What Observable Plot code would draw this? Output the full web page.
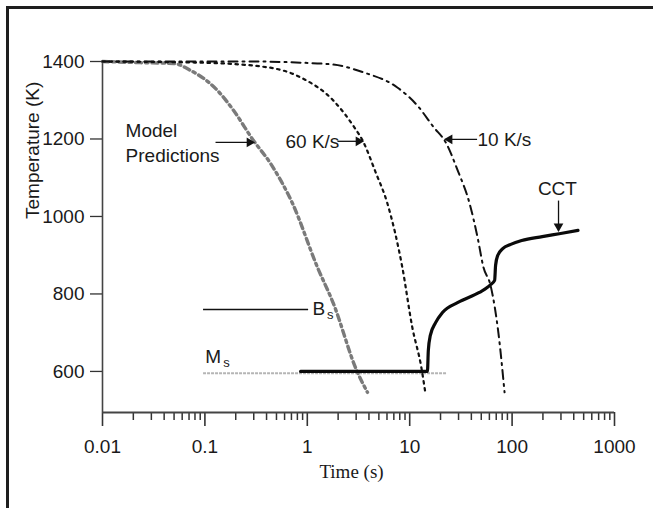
<!DOCTYPE html>
<html>
<head>
<meta charset="utf-8">
<script src="https://cdn.jsdelivr.net/npm/d3@7"></script>
<script src="https://cdn.jsdelivr.net/npm/@observablehq/plot@0.6"></script>
<style>
  html, body { margin: 0; padding: 0; background: #fff; width: 653px; height: 508px; overflow: hidden; }
  #wrap { position: relative; width: 653px; height: 508px; }
  #border { position: absolute; left: 6px; top: 6px; right: 0; bottom: 0; border-top: 3px solid #1e1e1e; border-left: 3px solid #1e1e1e; }
  #chart { position: absolute; left: 0; top: 0; }
</style>
</head>
<body>
<div id="wrap"><div id="border"></div><div id="chart"></div></div>
<script>
// ---- data ----
const xTickValues = [0.01, 0.1, 1, 10, 100, 1000];
const xTickLabels = ["0.01", "0.1", "1", "10", "100", "1000"];
const yTickValues = [600, 800, 1000, 1200, 1400];
const yTickLabels = ["600", "800", "1000", "1200", "1400"];
const minorMultipliers = [2, 3, 4, 5, 6, 7, 8, 9];

const modelTime = [0.01, 0.0235, 0.0494, 0.0724, 0.133, 0.19, 0.298, 0.437, 0.716, 1.26, 1.80, 3.03, 3.87];
const modelTemp = [1400, 1397, 1395, 1377, 1325, 1274, 1196, 1137, 1034, 868, 775, 603, 546];

const k60Time = [0.01, 0.0906, 0.41, 0.86, 1.80, 2.88, 3.47, 4.65, 6.05, 8.48, 10.6, 13.0, 14.2];
const k60Temp = [1400, 1397, 1385, 1359, 1299, 1230, 1196, 1114, 1034, 868, 714, 610, 546];

const k10Time = [0.01, 0.278, 0.86, 1.80, 3.53, 7.57, 11.9, 17.2, 22.5, 29.4, 38.4, 46.0, 52.6, 61.6, 73.6, 84.4];
const k10Temp = [1400, 1400, 1397, 1392, 1372, 1333, 1286, 1230, 1191, 1119, 1034, 946, 868, 822, 698, 546];

const cctTime = [0.86, 14.9, 15.2, 15.9, 17.9, 20.9, 29.6, 47.9, 57.5, 61.6, 67.5, 69, 72.3, 81, 97, 124, 197, 298, 440];
const cctTemp = [600, 600, 654, 693, 726, 752, 778, 804, 817, 824, 835, 874, 899, 917, 928, 938, 948, 956, 964];

const bsLine = {x1: 0.097, x2: 1.03, y: 760};
const msLine = {x1: 0.097, x2: 23, y: 595};

const annotations = [
  {x: 0.0168, y: 1193, text: "Model\nPredictions"},
  {x: 0.612, y: 1196, text: "60 K/s"},
  {x: 45.9, y: 1201, text: "10 K/s"},
  {x: 1.125, y: 765, text: "B"},
  {x: 0.101, y: 641, text: "M"}
];
const subscripts = [
  {x: 1.56, y: 745, text: "s"},
  {x: 0.151, y: 623, text: "s"}
];
const cctLabel = {x: 277, y: 1072, text: "CCT"};

const arrowShafts = [
  {x1: 0.127, x2: 0.298, y1: 1191, y2: 1191},
  {x1: 1.97, x2: 3.46, y1: 1194, y2: 1194},
  {x1: 45.5, x2: 22.4, y1: 1199, y2: 1199},
  {x1: 284, x2: 284, y1: 1041, y2: 964}
];
const arrowHeads = [
  {x: 0.298, y: 1191, rot: 90, dx: -4, dy: 0},
  {x: 3.46, y: 1194, rot: 90, dx: -4, dy: 0},
  {x: 22.4, y: 1199, rot: -90, dx: 4, dy: 0},
  {x: 284, y: 964, rot: 180, dx: 0, dy: -4}
];

// ---- build ----
const toPts = (xs, ys) => xs.map((x, i) => ({x, y: ys[i]}));
const minorTicks = xTickValues.slice(0, -1).flatMap(d => minorMultipliers.map(m => d * m));

const sans = "'Liberation Sans', Arial, Helvetica, sans-serif";
const serif = "'Liberation Serif', 'Times New Roman', serif";
const fs = 19;

const chart = Plot.plot({
  width: 653,
  height: 508,
  marginLeft: 102,
  marginRight: 39,
  marginTop: 61,
  marginBottom: 96,
  x: {type: "log", domain: [0.01, 1000]},
  y: {domain: [494, 1400]},
  style: {fontFamily: sans, fontSize: fs + "px", color: "#1a1a1a", background: "transparent"},
  marks: [
    Plot.axisX({ticks: minorTicks, tickSize: 8, tickFormat: () => "", label: null, stroke: "#333", strokeWidth: 1.5}),
    Plot.axisX({ticks: xTickValues, tickSize: 14, tickPadding: 13, tickFormat: d => xTickLabels[xTickValues.indexOf(d)], label: null, stroke: "#333", strokeWidth: 1.6, fontSize: fs}),
    Plot.axisY({ticks: yTickValues, tickSize: 12, tickPadding: 6, tickFormat: d => yTickLabels[yTickValues.indexOf(d)], label: null, stroke: "#333", strokeWidth: 1.3, fontSize: fs}),
    Plot.ruleY([494], {x1: 0.01, x2: 1000, stroke: "#444", strokeWidth: 2}),
    Plot.ruleX([0.01], {y1: 494, y2: 1400, stroke: "#444", strokeWidth: 1.6}),
    Plot.text(["Time (s)"], {frameAnchor: "bottom", dy: 65, dx: -7, fontFamily: serif, fontSize: 19, fill: "#1a1a1a"}),
    Plot.text(["Temperature (K)"], {frameAnchor: "left", rotate: -90, dx: -70, dy: -18, fontSize: fs, fill: "#1a1a1a"}),

    // Bs and Ms lines
    Plot.ruleY([msLine], {x1: "x1", x2: "x2", y: "y", stroke: "#b5b5b5", strokeWidth: 2, strokeDasharray: "3,1"}),
    Plot.ruleY([bsLine], {x1: "x1", x2: "x2", y: "y", stroke: "#111", strokeWidth: 1.5}),

    // curves
    Plot.line(toPts(modelTime, modelTemp), {x: "x", y: "y", curve: "monotone-x", stroke: "#7a7a7a", strokeWidth: 3.4, strokeDasharray: "6,4,2.5,4"}),
    Plot.line(toPts(k60Time, k60Temp), {x: "x", y: "y", curve: "monotone-x", stroke: "#111", strokeWidth: 2.2, strokeDasharray: "2.5,4.5"}),
    Plot.line(toPts(k10Time, k10Temp), {x: "x", y: "y", curve: "monotone-x", stroke: "#111", strokeWidth: 2, strokeDasharray: "9,5,2,5"}),
    Plot.line(toPts(cctTime, cctTemp), {x: "x", y: "y", curve: "monotone-x", stroke: "#0a0a0a", strokeWidth: 3.2, strokeLinejoin: "round"}),

    // annotations
    Plot.link(arrowShafts, {x1: "x1", x2: "x2", y1: "y1", y2: "y2", stroke: "#111", strokeWidth: 1.3}),
    ...arrowHeads.map(h => Plot.dot([h], {x: "x", y: "y", symbol: "triangle", r: 3.6, fill: "#111", stroke: "none", rotate: h.rot, dx: h.dx, dy: h.dy})),
    Plot.text(annotations, {x: "x", y: "y", text: "text", textAnchor: "start", lineHeight: 1.28, fontSize: fs, fill: "#1a1a1a"}),
    Plot.text(subscripts, {x: "x", y: "y", text: "text", textAnchor: "start", fontSize: 13, fill: "#1a1a1a"}),
    Plot.text([cctLabel], {x: "x", y: "y", text: "text", textAnchor: "middle", fontSize: fs, fill: "#1a1a1a"})
  ]
});
document.getElementById("chart").appendChild(chart);
</script>
</body>
</html>
